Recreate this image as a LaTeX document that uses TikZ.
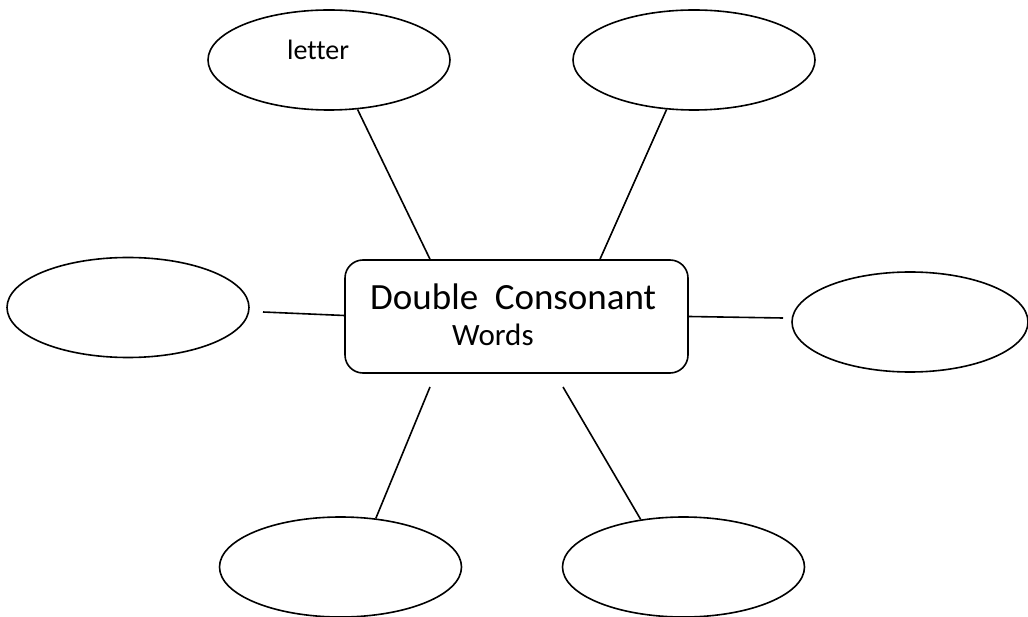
\documentclass[tikz,border=0pt]{standalone}
\usepackage{fontspec}
\setmainfont[Ligatures=NoCommon]{Carlito}
\usetikzlibrary{shapes.geometric}
\begin{document}
\begin{tikzpicture}[x=1pt,y=-1pt,
  bubble/.style={draw=black,line width=1.6pt,ellipse,minimum width=242pt,minimum height=100pt,inner sep=0pt},
  centerbox/.style={draw=black,line width=1.6pt,rounded corners=18pt,minimum width=343pt,minimum height=113pt,inner sep=0pt},
  link/.style={draw=black,line width=1.6pt},
  txt/.style={inner sep=0pt,anchor=base west}]
\useasboundingbox (0,0) rectangle (1028,617);
\fill[white] (0,0) rectangle (1028,617);
% nodes
\node[bubble] (tl) at (329,60) {};
\node[bubble] (tr) at (694,60) {};
\node[bubble] (l) at (128,307.5) {};
\node[bubble,minimum width=236pt] (r) at (910,322) {};
\node[bubble] (bl) at (340.5,567) {};
\node[bubble] (br) at (683.5,567) {};
\node[centerbox] (box) at (516.5,316.5) {};
% texts
\node[txt,font=\fontsize{28}{30}\selectfont] (lt) at (287,60) {letter};
\node[txt,font=\fontsize{37}{40}\selectfont] (dc) at (370,310) {Double\hspace{0.45em}Consonant};
\node[txt,font=\fontsize{31}{34}\selectfont] (wd) at (452,346) {Words};
% free ends
\coordinate (lend) at (263,312);
\coordinate (rend) at (783,318);
\coordinate (blend) at (430,387);
\coordinate (brend) at (563,387);
% connectors
\draw[link] (tl.-60) -- ([xshift=-86.5pt]box.north);
\draw[link] (tr.-119) -- ([xshift=83.5pt]box.north);
\draw[link] (lend) -- ([yshift=1pt]box.west);
\draw[link] ([yshift=0pt]box.east) -- (rend);
\draw[link] (blend) -- (bl.54);
\draw[link] (brend) -- (br.132);
\end{tikzpicture}
\end{document}
